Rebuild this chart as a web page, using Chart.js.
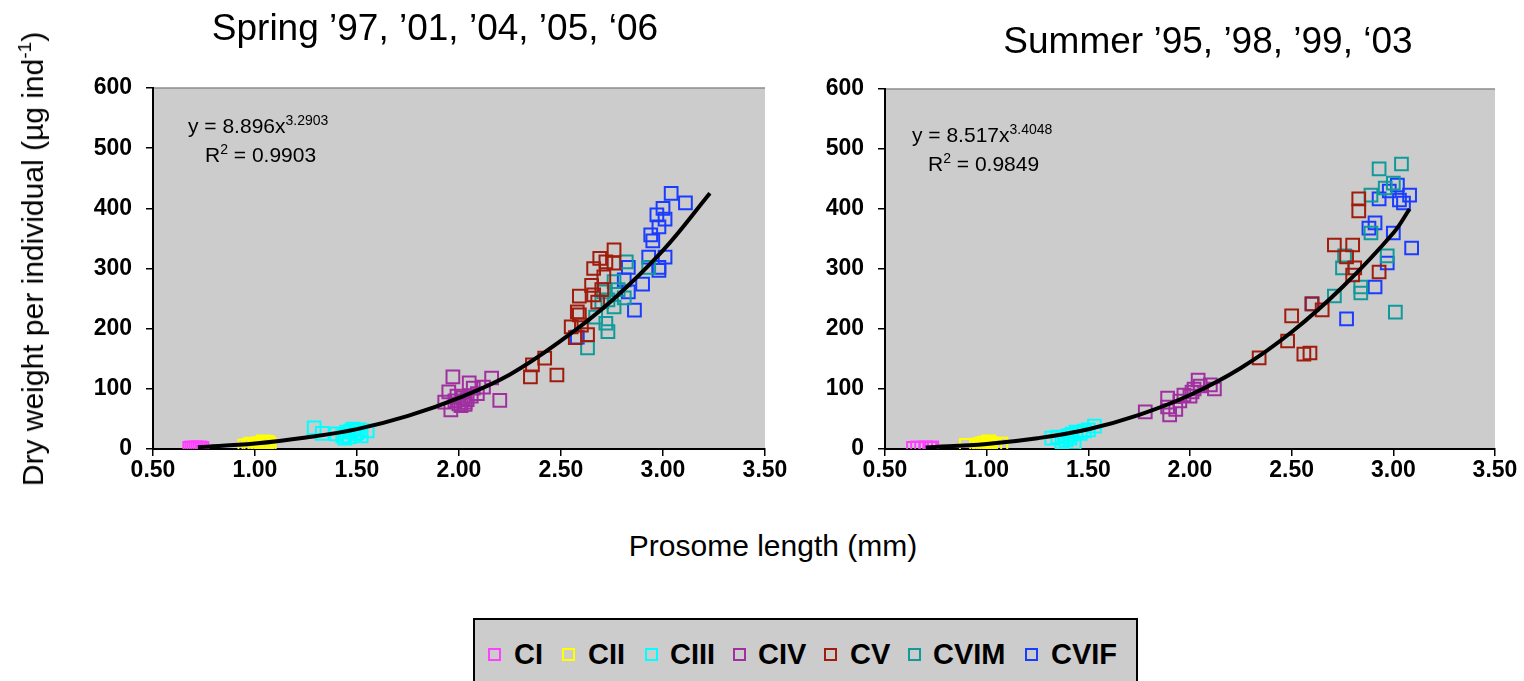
<!DOCTYPE html>
<html>
<head>
<meta charset="utf-8">
<title>Dry weight vs prosome length</title>
<script src="https://cdn.jsdelivr.net/npm/chart.js@4.4.1/dist/chart.umd.min.js"></script>
<style>
  body { margin: 0; background: #fff; width: 1524px; height: 681px; overflow: hidden; position: relative;
         font-family: Arial, 'Liberation Sans', sans-serif; color: #000; }
  canvas { position: absolute; top: 0; }
  .txt { position: absolute; white-space: nowrap; line-height: 1; }
  .title { font-size: 37px; transform: translateX(-50%); }
  .eq { font-size: 21px; }
  .eq sup { font-size: 14px; vertical-align: 8px; line-height: 0; }
  .axis-title { font-size: 30px; }
  #ytitle { left: 33px; top: 259px; transform: translate(-50%, -50%) rotate(-90deg); }
  #ytitle sup { font-size: 19px; vertical-align: 12px; line-height: 0; }
  #legend { position: absolute; left: 473px; top: 618px; width: 661px; height: 80px;
            border: 2px solid #000; background: #cccccc; }
  #legend .item { position: absolute; top: 20px; font-weight: bold; font-size: 29px; line-height: 1; }
  #legend .mark { position: absolute; top: 28px; width: 9px; height: 9px; border: 2px solid; }
</style>
</head>
<body>
<canvas id="springChart" width="790" height="490" style="left:0"></canvas>
<canvas id="summerChart" width="734" height="490" style="left:790px"></canvas>

<div class="txt title" style="left:435px; top:9px">Spring ’97, ’01, ’04, ’05, ‘06</div>
<div class="txt title" style="left:1208px; top:22px">Summer ’95, ’98, ’99, ‘03</div>

<div class="txt eq" style="left:188px; top:115px">y = 8.896x<sup>3.2903</sup></div>
<div class="txt eq" style="left:205px; top:144px">R<sup>2</sup> = 0.9903</div>
<div class="txt eq" style="left:912px; top:124px">y = 8.517x<sup>3.4048</sup></div>
<div class="txt eq" style="left:928px; top:153px">R<sup>2</sup> = 0.9849</div>

<div class="txt axis-title" id="ytitle">Dry weight per individual (µg ind<sup>-1</sup>)</div>
<div class="txt axis-title" style="left:773px; top:531px; transform: translateX(-50%)">Prosome length (mm)</div>

<div id="legend"></div>

<script>
// stages and their marker colours
const stages = ['CI', 'CII', 'CIII', 'CIV', 'CV', 'CVIM', 'CVIF'];
const stageColors = ['#ff40ff', '#ffff00', '#00ffff', '#a030a0', '#a01c0c', '#109a9a', '#1a3cff'];

// axis ticks
const xTicks = [0.5, 1.0, 1.5, 2.0, 2.5, 3.0, 3.5];
const yTicks = [0, 100, 200, 300, 400, 500, 600];

// Spring: [prosome length mm, dry weight ug]
const springCI = [[0.68,1],[0.69,2],[0.70,1],[0.71,2],[0.72,1],[0.73,2],[0.74,1]];
const springCII = [[0.95,5],[0.97,6],[0.98,8],[1.00,7],[1.00,4],[1.02,9],[1.03,8],[1.04,12],[1.05,10],[1.06,11],[1.07,8]];
const springCIII = [[1.29,35],[1.33,26],[1.40,25],[1.43,22],[1.44,18],[1.45,28],[1.46,20],[1.47,30],[1.48,33],[1.49,25],
  [1.50,27],[1.51,32],[1.52,22],[1.55,30]];
const springCIV = [[1.93,78],[1.95,95],[1.96,65],[1.97,120],[1.98,80],[1.99,88],[2.00,75],[2.01,72],[2.02,85],[2.03,78],
  [2.03,74],[2.04,82],[2.05,110],[2.06,88],[2.07,101],[2.09,92],[2.12,103],[2.16,118],[2.20,81]];
const springCV = [[2.35,120],[2.36,140],[2.42,151],[2.48,123],[2.55,203],[2.57,185],[2.58,228],[2.59,223],[2.59,254],
  [2.60,206],[2.63,190],[2.65,272],[2.66,300],[2.66,256],[2.68,244],[2.69,317],[2.70,265],[2.71,286],[2.72,311],
  [2.76,331],[2.76,309]];
const springCVIM = [[2.63,168],[2.67,219],[2.70,245],[2.71,261],[2.72,209],[2.73,195],[2.73,248],[2.76,236],[2.76,278],
  [2.78,265],[2.81,251],[2.82,311],[2.93,302]];
const springCVIF = [[2.58,186],[2.81,281],[2.83,302],[2.83,261],[2.86,231],[2.90,274],[2.93,319],[2.94,356],[2.95,346],
  [2.97,389],[2.98,369],[2.98,302],[2.98,297],[3.00,400],[3.01,382],[3.01,319],[3.04,425],[3.11,409]];
// power trend line
const springTrend = [[0.72,3],[1.00,9],[1.25,19],[1.50,33],[1.75,55],[2.00,85],[2.25,124],[2.50,180],[2.75,247],[3.00,330],[3.23,425]];

// Summer
const summerCI = [[0.64,1],[0.66,2],[0.68,1],[0.70,2],[0.72,1],[0.73,2]];
const summerCII = [[0.90,6],[0.95,4],[0.97,8],[0.98,3],[0.99,10],[1.00,2],[1.01,12],[1.02,9],[1.04,6],[1.07,8]];
const summerCIII = [[1.32,18],[1.35,20],[1.37,12],[1.39,15],[1.40,22],[1.41,18],[1.42,25],[1.43,10],[1.44,28],[1.46,26],
  [1.48,30],[1.50,32],[1.53,38]];
const summerCIV = [[1.78,62],[1.89,85],[1.89,70],[1.90,57],[1.93,66],[1.95,80],[1.97,90],[2.00,88],[2.01,95],[2.02,100],
  [2.04,115],[2.05,105],[2.10,107],[2.12,100]];
const summerCV = [[2.34,152],[2.48,180],[2.50,222],[2.56,158],[2.59,160],[2.60,242],[2.65,232],[2.71,340],[2.77,320],
  [2.80,340],[2.80,290],[2.81,302],[2.83,417],[2.83,397],[2.93,295]];
const summerCVIM = [[2.71,255],[2.75,302],[2.76,322],[2.84,270],[2.84,260],[2.89,360],[2.89,423],[2.93,467],[2.96,435],
  [2.97,322],[3.00,443],[3.01,228],[3.04,475]];
const summerCVIF = [[2.60,242],[2.77,217],[2.88,368],[2.91,377],[2.91,270],[2.93,417],[2.97,310],[2.98,430],[3.00,360],
  [3.02,440],[3.03,415],[3.05,410],[3.08,423],[3.09,335]];
const summerTrend = [[0.70,2.5],[1.00,8.5],[1.25,18],[1.50,33],[1.75,57],[2.00,90],[2.25,135],[2.50,195],[2.75,270],[3.00,360],[3.08,400]];

const springSeries = [springCI, springCII, springCIII, springCIV, springCV, springCVIM, springCVIF];
const summerSeries = [summerCI, summerCII, summerCIII, summerCIV, summerCV, summerCVIM, summerCVIF];

const toXY = arr => arr.map(p => ({ x: p[0], y: p[1] }));

// grey plot area with a grey top edge
const plotBg = {
  id: 'plotBg',
  beforeDraw(chart) {
    const { ctx, chartArea: a } = chart;
    ctx.save();
    ctx.fillStyle = '#cccccc';
    ctx.fillRect(a.left, a.top, a.right - a.left, a.bottom - a.top);
    ctx.strokeStyle = '#8c8c8c';
    ctx.lineWidth = 1.5;
    ctx.beginPath();
    ctx.moveTo(a.left, a.top);
    ctx.lineTo(a.right, a.top);
    ctx.stroke();
    ctx.restore();
  }
};

function makeChart(id, series, trend, yAxisWidth, padTop, padRight) {
  const datasets = [{
    type: 'line',
    label: 'trend',
    data: toXY(trend),
    borderColor: '#000',
    borderWidth: 4,
    pointRadius: 0,
    tension: 0.4,
    fill: false,
    order: -1
  }];
  series.forEach((s, i) => {
    datasets.push({
      label: stages[i],
      data: toXY(s),
      pointStyle: 'rect',
      pointRadius: 9,
      pointBorderWidth: 2,
      borderColor: stageColors[i],
      backgroundColor: 'rgba(0,0,0,0)',
      pointBackgroundColor: 'rgba(0,0,0,0)'
    });
  });

  return new Chart(document.getElementById(id), {
    type: 'scatter',
    data: { datasets },
    plugins: [plotBg],
    options: {
      responsive: false,
      animation: false,
      layout: { padding: { top: padTop, right: padRight, left: 0, bottom: 0 } },
      plugins: { legend: { display: false }, tooltip: { enabled: false } },
      scales: {
        x: {
          type: 'linear', min: 0.5, max: 3.5,
          afterBuildTicks: sc => { sc.ticks = xTicks.map(v => ({ value: v })); },
          afterFit: sc => { sc.height = 490 - 449; },
          ticks: { color: '#000', font: { family: 'Arial', size: 23, weight: 'bold' }, padding: 1,
                   callback: v => Number(v).toFixed(2) },
          grid: { drawOnChartArea: false, drawTicks: true, tickLength: 7, color: '#000', lineWidth: 1.5 },
          border: { color: '#000', width: 2 }
        },
        y: {
          type: 'linear', min: 0, max: 600,
          afterBuildTicks: sc => { sc.ticks = yTicks.map(v => ({ value: v })); },
          afterFit: sc => { sc.width = yAxisWidth; },
          ticks: { color: '#000', font: { family: 'Arial', size: 23, weight: 'bold' }, padding: 14 },
          grid: { drawOnChartArea: false, drawTicks: true, tickLength: 7, color: '#000', lineWidth: 1.5 },
          border: { color: '#000', width: 2 }
        }
      }
    }
  });
}

makeChart('springChart', springSeries, springTrend, 153, 88, 25);
makeChart('summerChart', summerSeries, summerTrend, 95, 89, 29);

// legend
const markLeft = [13, 87, 170, 258, 349, 433, 550];
const textLeft = [39, 113, 195, 283, 375, 458, 576];
const legend = document.getElementById('legend');
stages.forEach((name, i) => {
  const mark = document.createElement('div');
  mark.className = 'mark';
  mark.style.left = markLeft[i] + 'px';
  mark.style.borderColor = stageColors[i];
  legend.appendChild(mark);
  const item = document.createElement('div');
  item.className = 'item';
  item.style.left = textLeft[i] + 'px';
  item.textContent = name;
  legend.appendChild(item);
});
</script>
</body>
</html>
